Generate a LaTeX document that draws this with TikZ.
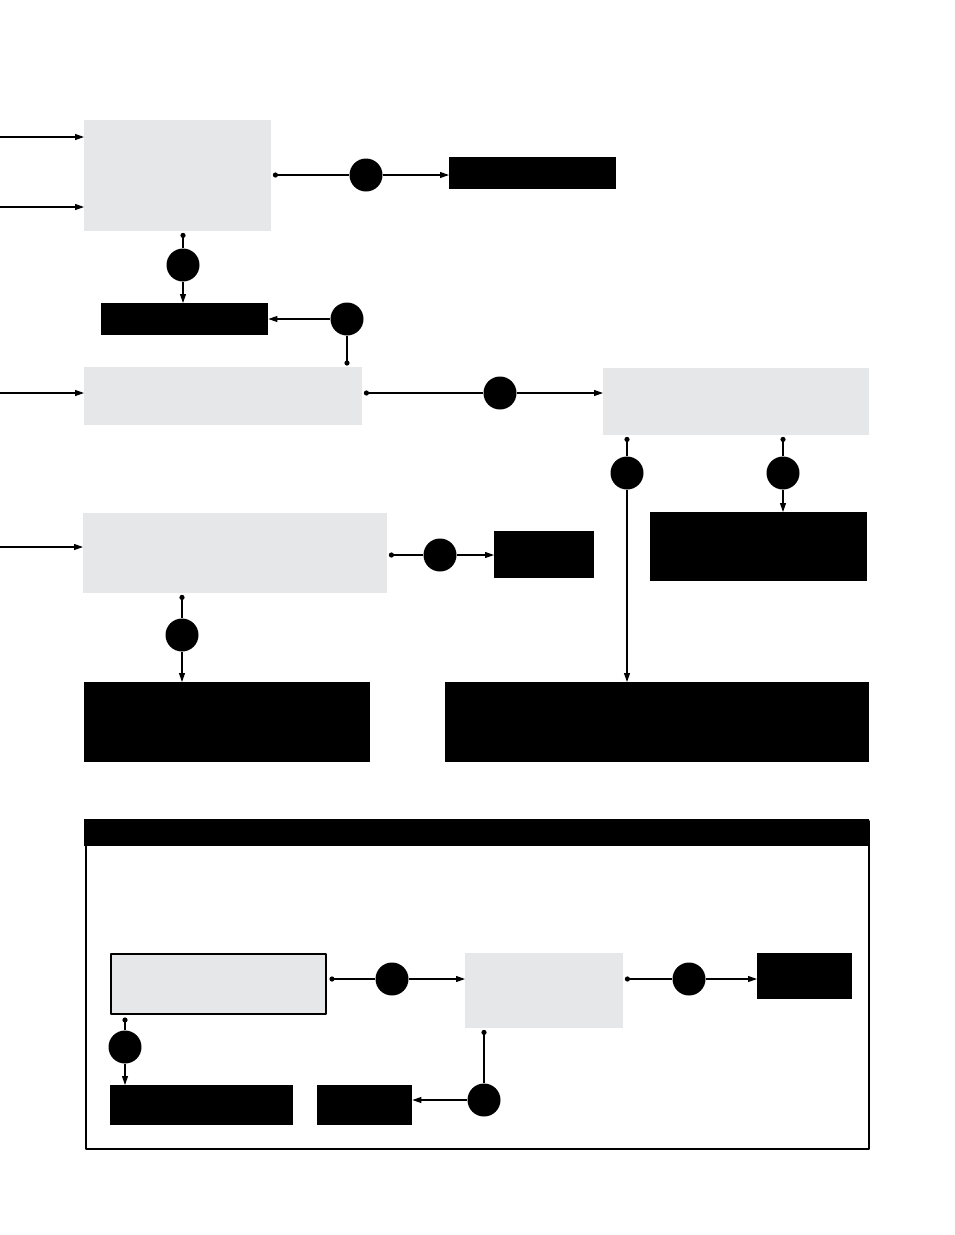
\documentclass[tikz,border=0pt]{standalone}
\usetikzlibrary{arrows.meta,calc}
\definecolor{panel}{HTML}{E6E7E8}
\begin{document}
\begin{tikzpicture}[x=1pt,y=-1pt,line join=round,>={Triangle[length=9pt,width=6pt]},
	grey/.style={fill=panel,inner sep=0,anchor=north west},
	blk/.style={fill=black,inner sep=0,anchor=north west},
	hub/.style={circle,fill=black,inner sep=0,minimum size=33},
	flow/.style={->,line width=1.1pt},
	feed/.style={->,line width=1.2pt}]
	\useasboundingbox (0,0) rectangle (954,1235);
	% upper chart
	\path
	(84,120) node[grey,minimum width=187,minimum height=111] (G1) {}
	(84,367) node[grey,minimum width=278,minimum height=58] (G2) {}
	(603,368) node[grey,minimum width=266,minimum height=67] (G3) {}
	(83,513) node[grey,minimum width=304,minimum height=80] (G4) {}
	(449,157) node[blk,minimum width=167,minimum height=32] (B1) {}
	(101,303) node[blk,minimum width=167,minimum height=32] (B2) {}
	(494,531) node[blk,minimum width=100,minimum height=47] (B3) {}
	(650,512) node[blk,minimum width=217,minimum height=69] (B4) {}
	(84,682) node[blk,minimum width=286,minimum height=80] (B5) {}
	(445,682) node[blk,minimum width=424,minimum height=80] (B6) {}
	;
	\foreach \n/\p in {C1/{366,175},C2/{183,265},C3/{347,319},C4/{500,393},
		C5/{627,473},C6/{783,473},C7/{440,555},C8/{182,635}}{
		\node[hub] (\n) at (\p) {};
	};
	\foreach \n/\y in {I1/137,I2/207,I3/393,I4/547}{
		\coordinate (\n) at (0,\y);
	};
	\draw[feed] (I1) -- (I1 -| G1.west);
	\draw[feed] (I2) -- (I2 -| G1.west);
	\draw[feed] (I3) -- (I3 -| G2.west);
	\draw[feed] (I4) -- (I4 -| G4.west);
	\coordinate (T1) at ($(G1.east|-C1)+(4,0)$);
	\coordinate (T2) at ($(C2|-G1.south)+(0,4)$);
	\coordinate (T3) at ($(C3|-G2.north)+(0,-4)$);
	\coordinate (T4) at ($(G2.east|-C4)+(4,0)$);
	\coordinate (T5) at ($(C5|-G3.south)+(0,4)$);
	\coordinate (T6) at ($(C6|-G3.south)+(0,4)$);
	\coordinate (T7) at ($(G4.east|-C7)+(4,0)$);
	\coordinate (T8) at ($(C8|-G4.south)+(0,4)$);
	\draw[flow] (T1) -- (C1) -- (C1 -| B1.west);
	\draw[flow] (T2) -- (C2) -- (C2 |- B2.north);
	\draw[flow] (T3) -- (C3) -- (C3 -| B2.east);
	\draw[flow] (T4) -- (C4) -- (C4 -| G3.west);
	\draw[flow] (T5) -- (C5) -- (C5 |- B6.north);
	\draw[flow] (T6) -- (C6) -- (C6 |- B4.north);
	\draw[flow] (T7) -- (C7) -- (C7 -| B3.west);
	\draw[flow] (T8) -- (C8) -- (C8 |- B5.north);
	% legend
	\path
	(85,820) node[anchor=north west,draw,line width=1.5pt,inner sep=0,minimum width=783,minimum height=328] (key) {}
	(84,819) node[blk,minimum width=785,minimum height=27] (keyhead) {}
	(110,953) node[grey,draw,line width=2pt,minimum width=215,minimum height=60] (K1) {}
	(465,953) node[grey,minimum width=158,minimum height=75] (K2) {}
	(757,953) node[blk,minimum width=95,minimum height=46] (K3) {}
	(110,1085) node[blk,minimum width=183,minimum height=40] (K4) {}
	(317,1085) node[blk,minimum width=95,minimum height=40] (K5) {}
	;
	\foreach \n/\p in {L1/{392,979},L2/{689,979},L3/{125,1047},L4/{484,1100}}{
		\node[hub] (\n) at (\p) {};
	};
	\coordinate (U1) at ($(K1.east|-L1)+(5,0)$);
	\coordinate (U2) at ($(K2.east|-L2)+(4,0)$);
	\coordinate (U3) at ($(L3|-K1.south)+(0,5)$);
	\coordinate (U4) at ($(L4|-K2.south)+(0,4)$);
	\draw[flow] (U1) -- (L1) -- (L1 -| K2.west);
	\draw[flow] (U2) -- (L2) -- (L2 -| K3.west);
	\draw[flow] (U3) -- (L3) -- (L3 |- K4.north);
	\draw[flow] (U4) -- (L4) -- (L4 -| K5.east);
	\foreach \t in {T1,T2,T3,T4,T5,T6,T7,T8,U1,U2,U3,U4}{
		\fill (\t) circle (2.6);
	};
\end{tikzpicture}
\end{document}
